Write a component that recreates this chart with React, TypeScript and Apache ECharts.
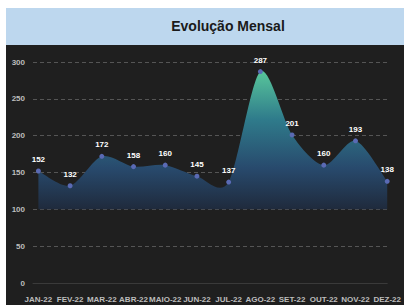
import React, { useEffect, useRef } from "react";
import * as echarts from "echarts";

const months = ["JAN-22", "FEV-22", "MAR-22", "ABR-22", "MAIO-22", "JUN-22", "JUL-22", "AGO-22", "SET-22", "OUT-22", "NOV-22", "DEZ-22"];
const values = [152, 132, 172, 158, 160, 145, 137, 287, 201, 160, 193, 138];
const yTicks = [0, 50, 100, 150, 200, 250, 300];
const areaBase = 100;
const title = "Evolução Mensal";

const TENSION = 0.85;

function curvePath(pts: number[][], baseY: number): string {
  const n = pts.length;
  let d = `M${pts[0][0]},${baseY} L${pts[0][0]},${pts[0][1]}`;
  for (let i = 0; i < n - 1; i++) {
    const p0 = pts[Math.max(0, i - 1)];
    const p1 = pts[i];
    const p2 = pts[i + 1];
    const p3 = pts[Math.min(n - 1, i + 2)];
    const c1x = p1[0] + ((p2[0] - p0[0]) / 6) * TENSION;
    const c1y = p1[1] + ((p2[1] - p0[1]) / 6) * TENSION;
    const c2x = p2[0] - ((p3[0] - p1[0]) / 6) * TENSION;
    const c2y = p2[1] - ((p3[1] - p1[1]) / 6) * TENSION;
    d += ` C${c1x},${c1y} ${c2x},${c2y} ${p2[0]},${p2[1]}`;
  }
  d += ` L${pts[n - 1][0]},${baseY} Z`;
  return d;
}

export default function App() {
  const ref = useRef<HTMLDivElement>(null);
  useEffect(() => {
    if (!ref.current) return;
    const chart = echarts.init(ref.current, null, { renderer: "svg" });
    const idx = months.map((_, i) => i);
    const seriesData = values.map((v, i) => [i, v]);
    chart.setOption({
      animation: false,
      backgroundColor: "#ffffff",
      graphic: [
        { type: "rect", shape: { x: 6, y: 8, width: 398, height: 37 }, style: { fill: "#bdd7ee" }, z: -10 },
        { type: "rect", shape: { x: 6, y: 45, width: 398, height: 260 }, style: { fill: "#1f1f1f" }, z: -10 },
        {
          type: "text",
          x: 228,
          y: 26,
          style: {
            text: title,
            fill: "#1a1a1a",
            font: "bold 14px Arial, 'Liberation Sans', sans-serif",
            textAlign: "center",
            textVerticalAlign: "middle",
          },
        },
      ],
      grid: { left: 33, right: 12, top: 62, bottom: 22 },
      xAxis: {
        type: "value",
        min: -0.17,
        max: 11,
        splitLine: { show: false },
        axisTick: { show: false },
        axisLine: { show: true, lineStyle: { color: "#3a3a3a", width: 1 } },
        axisLabel: {
          customValues: idx,
          formatter: (v: number) => months[Math.round(v)] ?? "",
          color: "#bdbdbd",
          fontSize: 8,
          fontWeight: "bold",
          fontFamily: "Arial",
          margin: 12,
          showMinLabel: true,
          showMaxLabel: true,
        },
      },
      yAxis: {
        type: "value",
        min: 0,
        max: 300,
        interval: 50,
        axisLine: { show: false },
        axisTick: { show: false },
        axisLabel: {
          color: "#bdbdbd",
          fontSize: 8,
          fontWeight: "bold",
          fontFamily: "Arial",
          margin: 8,
          formatter: (v: number) => (yTicks.includes(v) ? String(v) : ""),
        },
        splitLine: { show: true, lineStyle: { color: "#555555", type: [4, 3], width: 1 } },
      },
      series: [
        {
          type: "custom",
          data: seriesData,
          z: 2,
          renderItem: (params: any, api: any) => {
            if (params.dataIndex !== 0) return null;
            const pts = values.map((v, i) => api.coord([i, v]));
            const baseY = api.coord([0, areaBase])[1];
            return {
              type: "path",
              shape: { pathData: curvePath(pts, baseY) },
              style: {
                fill: new echarts.graphic.LinearGradient(0, 0, 0, 1, [
                  { offset: 0, color: "#58c69b" },
                  { offset: 0.35, color: "#2f7b8b" },
                  { offset: 0.7, color: "#284a6d" },
                  { offset: 1, color: "#1f2a3c" },
                ]),
                stroke: null,
              },
            };
          },
        },
        {
          type: "line",
          data: seriesData,
          z: 3,
          symbol: "circle",
          symbolSize: 5,
          itemStyle: { color: "#5a6ab4" },
          lineStyle: { opacity: 0 },
          label: {
            show: true,
            position: "top",
            distance: 5,
            color: "#ffffff",
            fontSize: 8,
            fontWeight: "bold",
            fontFamily: "Arial",
          },
        },
      ],
    });
    return () => chart.dispose();
  }, []);
  return <div ref={ref} style={{ position: "fixed", left: 0, top: 0, width: 404, height: 305 }} />;
}
